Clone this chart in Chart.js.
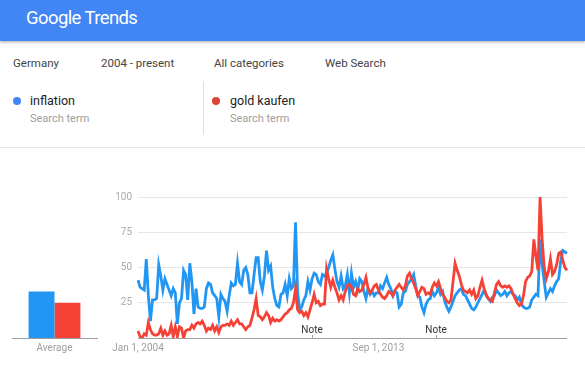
<!DOCTYPE html>
<html>
<head>
<meta charset="utf-8">
<script src="https://cdn.jsdelivr.net/npm/chart.js@4.4.0/dist/chart.umd.min.js"></script>
<style>
body{margin:0;width:585px;height:368px;overflow:hidden;background:#fff;font-family:Roboto,Arial,sans-serif;position:relative}
#top{position:absolute;left:0;top:0;width:585px;height:41px;background:#4285f4;box-shadow:0 1px 3px rgba(0,0,0,.35)}
#top span{position:absolute;left:26px;top:7px;color:#fff;font-size:18.5px;letter-spacing:-0.6px}
.f{position:absolute;top:56px;font-size:11.5px;color:#444}
.term{position:absolute;top:93px;font-size:12.5px;color:#222}
.sub{position:absolute;top:112px;font-size:11px;color:#9e9e9e}
.dot{position:absolute;top:97px;width:8px;height:8px;border-radius:50%}
#vline{position:absolute;left:203px;top:81px;width:1px;height:54px;background:#e0e0e0}
#hline{position:absolute;left:0;top:147px;width:585px;height:1px;background:#e6e6e6}
#avg{position:absolute;left:0;top:185px}
#main{position:absolute;left:90px;top:185px}
</style>
</head>
<body>
<div id="top"><span>Google Trends</span></div>
<div class="f" style="left:13px">Germany</div>
<div class="f" style="left:101px">2004 - present</div>
<div class="f" style="left:214px">All categories</div>
<div class="f" style="left:325px">Web Search</div>
<div class="dot" style="left:13px;background:#4285f4"></div>
<div class="term" style="left:30px">inflation</div>
<div class="sub" style="left:30px">Search term</div>
<div id="vline"></div>
<div class="dot" style="left:212px;background:#db4437"></div>
<div class="term" style="left:230px">gold kaufen</div>
<div class="sub" style="left:230px">Search term</div>
<div id="hline"></div>
<canvas id="avg" width="110" height="170"></canvas>
<canvas id="main" width="495" height="170"></canvas>
<script>
// Google Trends, Germany, monthly Jan 2004 - Apr 2021
var terms = ["inflation", "gold kaufen"];
var colors = ["#2196f3", "#f44336"];
var averages = [33, 25];

var inflation = [
  41,36,35,34,56,30,12,27,27,28,
  52,44,34,42,38,34,30,35,32,10,
  25,28,48,45,27,53,40,17,35,22,
  21,21,22,35,39,38,32,30,28,15,
  31,28,26,19,30,39,37,38,53,40,
  38,48,50,45,32,32,45,57,57,40,
  34,44,62,48,51,36,28,23,22,31,
  32,38,30,42,35,37,82,33,20,22,
  27,30,40,34,42,46,45,40,38,45,
  44,46,50,55,59,49,40,36,44,35,
  37,45,32,46,36,40,34,42,40,33,
  28,35,31,33,30,32,32,37,35,39,
  43,38,35,30,33,32,22,24,32,33,
  38,40,42,45,37,30,29,22,18,24,
  27,28,33,30,32,36,31,33,26,22,
  19,22,26,30,32,34,35,31,30,27,
  24,21,20,22,25,28,31,34,30,28,
  26,29,30,34,32,30,31,33,30,32,
  33,31,30,27,29,24,22,21,21,22,
  27,29,31,30,70,52,40,29,32,35,
  33,37,40,42,55,62,61,60
];
var goldKaufen = [
  5,1,0,3,2,11,6,3,2,2,
  3,7,2,5,2,3,9,1,8,1,
  8,7,0,5,6,6,9,7,10,11,
  10,12,9,5,7,6,9,5,8,4,
  8,9,9,10,9,12,9,11,13,10,
  10,8,6,8,9,14,20,28,16,15,
  13,15,18,16,11,14,12,13,12,13,
  15,17,18,20,21,25,35,20,18,19,
  16,18,15,20,25,31,25,26,23,24,
  24,49,42,36,41,36,32,27,30,27,
  33,37,38,36,31,30,35,33,34,38,
  43,35,32,34,37,38,34,31,29,28,
  30,33,32,30,34,36,38,36,34,37,
  44,46,42,39,35,30,33,36,35,31,
  32,31,36,39,37,40,35,31,29,26,
  25,27,40,53,48,44,38,34,33,32,
  34,31,34,28,30,36,41,35,31,28,
  27,26,32,38,40,37,36,37,36,37,
  35,31,28,25,23,24,30,40,43,44,
  47,70,58,48,100,70,50,42,47,56,
  45,47,52,60,61,55,50,48
];
var xTicks = ["Jan 1, 2004", "Sep 1, 2013"];
var noteMonths = ["Jan 1, 2011", "Jan 1, 2016"];
var yTicks = [25, 50, 75, 100];

var monthNames = ["Jan","Feb","Mar","Apr","May","Jun","Jul","Aug","Sep","Oct","Nov","Dec"];
var months = [];
for (var i = 0; i < inflation.length; i++) {
  months.push(monthNames[i % 12] + " 1, " + (2004 + Math.floor(i / 12)));
}

// little "Note" marks on the time axis
var notePlugin = {
  id: "notes",
  afterDraw: function(chart) {
    var ctx = chart.ctx, xs = chart.scales.x, y0 = chart.chartArea.bottom;
    noteMonths.forEach(function(m) {
      var x = Math.round(xs.getPixelForValue(months.indexOf(m)));
      ctx.save();
      ctx.strokeStyle = "#9e9e9e";
      ctx.lineWidth = 1;
      ctx.beginPath();
      ctx.moveTo(x + 0.5, y0 - 3);
      ctx.lineTo(x + 0.5, y0);
      ctx.stroke();
      ctx.fillStyle = "#333";
      ctx.font = "10px Roboto";
      ctx.textAlign = "center";
      ctx.textBaseline = "bottom";
      ctx.fillText("Note", x, y0 - 3);
      ctx.restore();
    });
  }
};

new Chart(document.getElementById("avg").getContext("2d"), {
  type: "bar",
  data: {
    labels: ["Average"],
    datasets: [
      { label: terms[0], data: [averages[0]], backgroundColor: colors[0] },
      { label: terms[1], data: [averages[1]], backgroundColor: colors[1] }
    ]
  },
  options: {
    responsive: false,
    animation: false,
    layout: { padding: { top: 12, left: 12, right: 13, bottom: 0 } },
    datasets: { bar: { categoryPercentage: 0.61, barPercentage: 1 } },
    plugins: { legend: { display: false }, tooltip: { enabled: false } },
    scales: {
      x: {
        grid: { display: false, drawTicks: false },
        border: { color: "#9e9e9e" },
        ticks: { color: "#9e9e9e", padding: 4, font: { size: 10, family: "Roboto" } },
        afterFit: function(s) { s.height = 17; }
      },
      y: { display: false, min: 0, max: 100 }
    }
  }
});

new Chart(document.getElementById("main").getContext("2d"), {
  type: "line",
  data: {
    labels: months,
    datasets: [
      { label: terms[0], data: inflation, borderColor: colors[0], borderWidth: 2.8, pointRadius: 0, order: 2 },
      { label: terms[1], data: goldKaufen, borderColor: colors[1], borderWidth: 2.8, pointRadius: 0, order: 1 }
    ]
  },
  options: {
    responsive: false,
    animation: false,
    layout: { padding: { top: 12, right: 18, left: 0, bottom: 0 } },
    plugins: { legend: { display: false }, tooltip: { enabled: false } },
    scales: {
      x: {
        grid: { display: false, drawTicks: false },
        border: { display: false },
        ticks: {
          autoSkip: false, maxRotation: 0, minRotation: 0, padding: 4,
          color: "#9e9e9e", font: { size: 10, family: "Roboto" },
          callback: function(v, i) { return xTicks.indexOf(months[i]) >= 0 ? months[i] : ""; }
        },
        afterFit: function(s) { s.height = 17; }
      },
      y: {
        min: 0, max: 100,
        border: { display: false },
        grid: {
          drawTicks: false,
          color: function(c) { return c.tick.value === 0 ? "#9e9e9e" : "#e6e6e6"; }
        },
        ticks: {
          stepSize: 25, padding: 6, color: "#aaaaaa", font: { size: 10, family: "Roboto" },
          callback: function(v) { return yTicks.indexOf(v) >= 0 ? v : ""; }
        },
        afterFit: function(s) { s.width = 48; }
      }
    }
  },
  plugins: [notePlugin]
});
</script>
</body>
</html>
